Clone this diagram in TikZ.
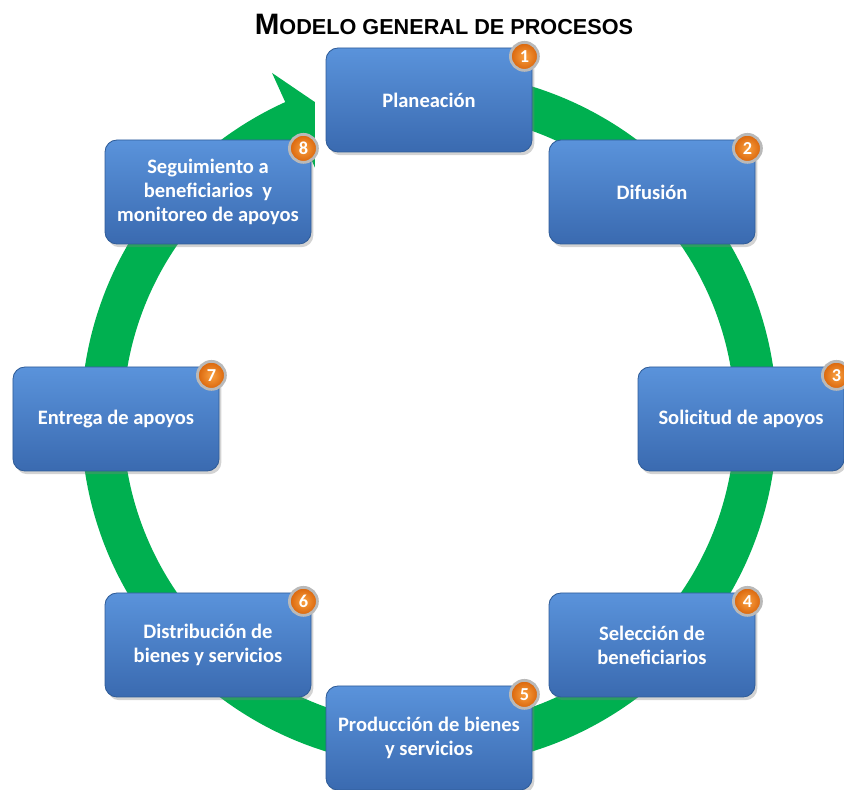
\documentclass[tikz,border=0pt]{standalone}
\usepackage{fontspec}
\setmainfont{Carlito}
\newfontfamily\titlefont{Liberation Sans}
\usepackage{tikz}
\usetikzlibrary{shadows}

\definecolor{ringgreen}{HTML}{00B050}
\definecolor{boxtop}{HTML}{5A93DB}
\definecolor{boxbot}{HTML}{3A6AB0}
\definecolor{boxline}{HTML}{2F5C98}
\definecolor{badgein}{HTML}{F9A040}
\definecolor{badgeout}{HTML}{D9640A}

\begin{document}
\begin{tikzpicture}
    \tikzstyle{proc}=[rectangle, rounded corners=0.3cm, minimum width=5.15cm, minimum height=2.6cm, top color=boxtop, bottom color=boxbot, draw=boxline, line width=0.6pt, drop shadow={opacity=0.35, shadow xshift=0.06cm, shadow yshift=-0.08cm}, text=white, align=center, font=\bfseries\fontsize{14.6}{17}\selectfont]
    \tikzstyle{badge}=[circle, minimum size=0.7cm, inner sep=0pt, inner color=badgein, outer color=badgeout, draw=gray!55, line width=0.07cm, text=white, font=\bfseries\fontsize{13}{13}\selectfont]

    \useasboundingbox (0,0) rectangle (21.1,19.75);

    % green ring with the arrow head going into Planeacion
    \begin{scope}[shift={(10.725,9.275)}]
      \fill[ringgreen] (90:8.7) arc[start angle=90, end angle=-245.6, radius=8.7]
        -- (114.4:9.5) -- (109.8:8.42) -- (114.4:6.9) -- (114.4:7.65)
        arc[start angle=-245.6, end angle=90, radius=7.65] -- cycle;
    \end{scope}

    \node[font=\titlefont\bfseries] (title) at (11.1,19.15) {{\fontsize{21}{22}\selectfont M}{\fontsize{15.4}{16}\selectfont ODELO GENERAL DE PROCESOS}};

    \node[proc] (plan) at (10.725,17.25) {Planeación};
    \node[proc] (difu) at (16.3,14.95) {Difusión};
    \node[proc] (soli) at (18.525,9.275) {Solicitud de apoyos};
    \node[proc] (sele) at (16.3,3.625) {Selección de\\beneficiarios};
    \node[proc] (prod) at (10.725,1.3) {Producción de bienes\\y servicios};
    \node[proc] (dist) at (5.2,3.625) {Distribución de\\bienes y servicios};
    \node[proc] (entr) at (2.9,9.275) {Entrega de apoyos};
    \node[proc] (segu) at (5.2,14.95) {Seguimiento a\\beneficiarios\ \ y\\monitoreo de apoyos};

    \node[badge] (b1) at ([xshift=-0.2cm,yshift=-0.22cm]plan.north east) {1};
    \node[badge] (b2) at ([xshift=-0.2cm,yshift=-0.22cm]difu.north east) {2};
    \node[badge] (b3) at ([xshift=-0.2cm,yshift=-0.22cm]soli.north east) {3};
    \node[badge] (b4) at ([xshift=-0.2cm,yshift=-0.22cm]sele.north east) {4};
    \node[badge] (b5) at ([xshift=-0.2cm,yshift=-0.22cm]prod.north east) {5};
    \node[badge] (b6) at ([xshift=-0.2cm,yshift=-0.22cm]dist.north east) {6};
    \node[badge] (b7) at ([xshift=-0.2cm,yshift=-0.22cm]entr.north east) {7};
    \node[badge] (b8) at ([xshift=-0.2cm,yshift=-0.22cm]segu.north east) {8};
\end{tikzpicture}
\end{document}
